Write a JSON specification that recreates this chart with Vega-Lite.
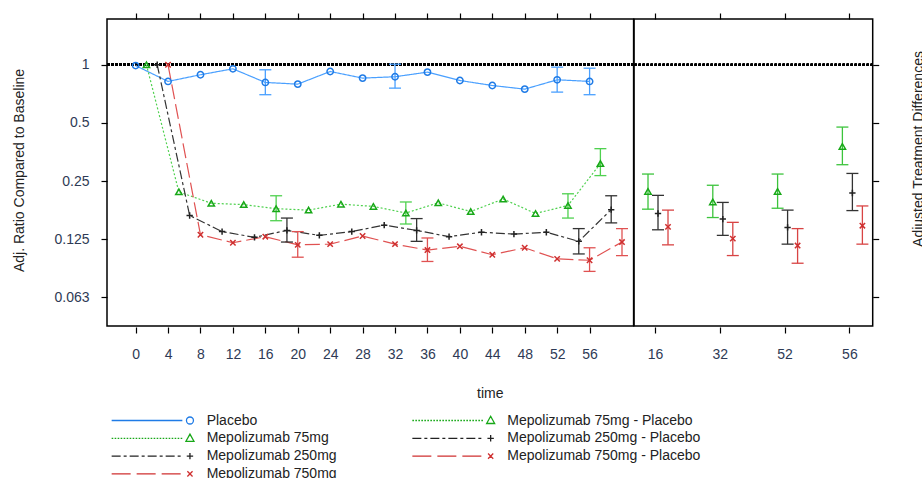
{
  "$schema": "https://vega.github.io/schema/vega-lite/v6.json",
  "padding": {"left": 11, "top": 11, "right": 0, "bottom": 0},
  "spacing": 0,
  "bounds": "flush",
  "resolve": {"scale": {"xOffset": "independent", "x": "independent", "y": "independent"}},
  "datasets": {
    "trend": [
      {"series": "Placebo", "week": 0, "ratio": 0.99},
      {"series": "Placebo", "week": 4, "ratio": 0.82},
      {"series": "Placebo", "week": 8, "ratio": 0.888},
      {"series": "Placebo", "week": 12, "ratio": 0.953},
      {"series": "Placebo", "week": 16, "ratio": 0.81, "lo": 0.70, "hi": 0.942},
      {"series": "Placebo", "week": 20, "ratio": 0.794},
      {"series": "Placebo", "week": 24, "ratio": 0.923},
      {"series": "Placebo", "week": 28, "ratio": 0.853},
      {"series": "Placebo", "week": 32, "ratio": 0.867, "lo": 0.757, "hi": 1.007},
      {"series": "Placebo", "week": 36, "ratio": 0.916},
      {"series": "Placebo", "week": 40, "ratio": 0.829},
      {"series": "Placebo", "week": 44, "ratio": 0.781},
      {"series": "Placebo", "week": 48, "ratio": 0.748},
      {"series": "Placebo", "week": 52, "ratio": 0.836, "lo": 0.722, "hi": 0.972},
      {"series": "Placebo", "week": 56, "ratio": 0.82, "lo": 0.70, "hi": 0.96},
      {"series": "Mepolizumab 75mg", "week": 0, "ratio": 1.0},
      {"series": "Mepolizumab 75mg", "week": 4, "ratio": 0.22},
      {"series": "Mepolizumab 75mg", "week": 8, "ratio": 0.192},
      {"series": "Mepolizumab 75mg", "week": 12, "ratio": 0.189},
      {"series": "Mepolizumab 75mg", "week": 16, "ratio": 0.18, "lo": 0.156, "hi": 0.21},
      {"series": "Mepolizumab 75mg", "week": 20, "ratio": 0.177},
      {"series": "Mepolizumab 75mg", "week": 24, "ratio": 0.19},
      {"series": "Mepolizumab 75mg", "week": 28, "ratio": 0.185},
      {"series": "Mepolizumab 75mg", "week": 32, "ratio": 0.171, "lo": 0.15, "hi": 0.195},
      {"series": "Mepolizumab 75mg", "week": 36, "ratio": 0.193},
      {"series": "Mepolizumab 75mg", "week": 40, "ratio": 0.174},
      {"series": "Mepolizumab 75mg", "week": 44, "ratio": 0.202},
      {"series": "Mepolizumab 75mg", "week": 48, "ratio": 0.17},
      {"series": "Mepolizumab 75mg", "week": 52, "ratio": 0.187, "lo": 0.161, "hi": 0.215},
      {"series": "Mepolizumab 75mg", "week": 56, "ratio": 0.308, "lo": 0.267, "hi": 0.368},
      {"series": "Mepolizumab 250mg", "week": 0, "ratio": 1.0},
      {"series": "Mepolizumab 250mg", "week": 4, "ratio": 0.166},
      {"series": "Mepolizumab 250mg", "week": 8, "ratio": 0.137},
      {"series": "Mepolizumab 250mg", "week": 12, "ratio": 0.128},
      {"series": "Mepolizumab 250mg", "week": 16, "ratio": 0.139, "lo": 0.121, "hi": 0.161},
      {"series": "Mepolizumab 250mg", "week": 20, "ratio": 0.131},
      {"series": "Mepolizumab 250mg", "week": 24, "ratio": 0.137},
      {"series": "Mepolizumab 250mg", "week": 28, "ratio": 0.148},
      {"series": "Mepolizumab 250mg", "week": 32, "ratio": 0.139, "lo": 0.122, "hi": 0.16},
      {"series": "Mepolizumab 250mg", "week": 36, "ratio": 0.129},
      {"series": "Mepolizumab 250mg", "week": 40, "ratio": 0.136},
      {"series": "Mepolizumab 250mg", "week": 44, "ratio": 0.133},
      {"series": "Mepolizumab 250mg", "week": 48, "ratio": 0.136},
      {"series": "Mepolizumab 250mg", "week": 52, "ratio": 0.122, "lo": 0.105, "hi": 0.142},
      {"series": "Mepolizumab 250mg", "week": 56, "ratio": 0.178, "lo": 0.152, "hi": 0.21},
      {"series": "Mepolizumab 750mg", "week": 0, "ratio": 1.0},
      {"series": "Mepolizumab 750mg", "week": 4, "ratio": 0.132},
      {"series": "Mepolizumab 750mg", "week": 8, "ratio": 0.12},
      {"series": "Mepolizumab 750mg", "week": 12, "ratio": 0.129},
      {"series": "Mepolizumab 750mg", "week": 16, "ratio": 0.117, "lo": 0.101, "hi": 0.137},
      {"series": "Mepolizumab 750mg", "week": 20, "ratio": 0.118},
      {"series": "Mepolizumab 750mg", "week": 24, "ratio": 0.13},
      {"series": "Mepolizumab 750mg", "week": 28, "ratio": 0.118},
      {"series": "Mepolizumab 750mg", "week": 32, "ratio": 0.11, "lo": 0.096, "hi": 0.127},
      {"series": "Mepolizumab 750mg", "week": 36, "ratio": 0.115},
      {"series": "Mepolizumab 750mg", "week": 40, "ratio": 0.104},
      {"series": "Mepolizumab 750mg", "week": 44, "ratio": 0.113},
      {"series": "Mepolizumab 750mg", "week": 48, "ratio": 0.099},
      {"series": "Mepolizumab 750mg", "week": 52, "ratio": 0.0974, "lo": 0.0853, "hi": 0.113},
      {"series": "Mepolizumab 750mg", "week": 56, "ratio": 0.121, "lo": 0.103, "hi": 0.142}
    ],
    "diff": [
      {"series": "Mepolizumab 75mg - Placebo", "week": 16, "ratio": 0.221, "lo": 0.179, "hi": 0.272},
      {"series": "Mepolizumab 250mg - Placebo", "week": 16, "ratio": 0.17, "lo": 0.14, "hi": 0.211},
      {"series": "Mepolizumab 750mg - Placebo", "week": 16, "ratio": 0.145, "lo": 0.117, "hi": 0.177},
      {"series": "Mepolizumab 75mg - Placebo", "week": 32, "ratio": 0.195, "lo": 0.162, "hi": 0.238},
      {"series": "Mepolizumab 250mg - Placebo", "week": 32, "ratio": 0.159, "lo": 0.131, "hi": 0.194},
      {"series": "Mepolizumab 750mg - Placebo", "week": 32, "ratio": 0.126, "lo": 0.103, "hi": 0.153},
      {"series": "Mepolizumab 75mg - Placebo", "week": 52, "ratio": 0.221, "lo": 0.181, "hi": 0.272},
      {"series": "Mepolizumab 250mg - Placebo", "week": 52, "ratio": 0.144, "lo": 0.118, "hi": 0.177},
      {"series": "Mepolizumab 750mg - Placebo", "week": 52, "ratio": 0.116, "lo": 0.094, "hi": 0.142},
      {"series": "Mepolizumab 75mg - Placebo", "week": 56, "ratio": 0.378, "lo": 0.304, "hi": 0.476},
      {"series": "Mepolizumab 250mg - Placebo", "week": 56, "ratio": 0.217, "lo": 0.176, "hi": 0.274},
      {"series": "Mepolizumab 750mg - Placebo", "week": 56, "ratio": 0.147, "lo": 0.118, "hi": 0.186}
    ]
  },
  "hconcat": [
    {
      "width": 526.6,
      "height": 307,
      "data": {"name": "trend"},
      "layer": [
        {
          "mark": {"type": "rule", "strokeDash": [2, 2], "strokeWidth": 2, "color": "black"},
          "encoding": {"y": {"datum": 1, "type": "quantitative", "scale": {"type": "log", "domain": [0.0445, 1.725], "nice": false}}}
        },
        {
          "mark": {"type": "line", "strokeWidth": 1.2},
          "encoding": {
            "x": {"field": "week", "type": "ordinal", "scale": {"type": "point", "domain": [0, 4, 8, 12, 16, 20, 24, 28, 32, 36, 40, 44, 48, 52, 56, 60], "padding": 0.62, "align": 0.712},
                  "axis": {"orient": "top", "values": [0, 4, 8, 12, 16, 20, 24, 28, 32, 36, 40, 44, 48, 52, 56], "labels": false, "title": null}},
            "xOffset": {"field": "series", "type": "nominal", "scale": {"type": "point", "domain": ["Placebo", "Mepolizumab 75mg", "Mepolizumab 250mg", "Mepolizumab 750mg"], "range": [0, 32.4], "padding": 0}},
            "y": {"field": "ratio", "type": "quantitative", "scale": {"type": "log", "domain": [0.0445, 1.725], "nice": false}},
            "stroke": {"field": "series", "type": "nominal", "legend": null, "scale": {"domain": ["Mepolizumab 750mg - Placebo", "Mepolizumab 250mg - Placebo", "Mepolizumab 75mg - Placebo", "Mepolizumab 750mg", "Mepolizumab 250mg", "Mepolizumab 75mg", "Placebo"], "range": ["#d84444", "#333333", "#3cc43c", "#e05252", "#333333", "#4fd14f", "#4aa0ff"]}},
            "strokeDash": {"field": "series", "type": "nominal", "legend": null, "scale": {"domain": ["Placebo", "Mepolizumab 75mg", "Mepolizumab 250mg", "Mepolizumab 750mg"], "range": [[1, 0], [2, 2], [9, 3, 3, 3], [15, 5]]}}
          }
        },
        {
          "transform": [{"filter": "isValid(datum.lo)"}],
          "mark": {"type": "rule", "strokeWidth": 1.3},
          "encoding": {
            "x": {"field": "week", "type": "ordinal", "scale": {"type": "point", "domain": [0, 4, 8, 12, 16, 20, 24, 28, 32, 36, 40, 44, 48, 52, 56, 60], "padding": 0.62, "align": 0.712}, "axis": null},
            "xOffset": {"field": "series", "type": "nominal", "scale": {"type": "point", "domain": ["Placebo", "Mepolizumab 75mg", "Mepolizumab 250mg", "Mepolizumab 750mg"], "range": [0, 32.4], "padding": 0}},
            "y": {"field": "lo", "type": "quantitative", "scale": {"type": "log", "domain": [0.0445, 1.725], "nice": false}},
            "y2": {"field": "hi"},
            "stroke": {"field": "series", "type": "nominal", "legend": null, "scale": {"domain": ["Mepolizumab 750mg - Placebo", "Mepolizumab 250mg - Placebo", "Mepolizumab 75mg - Placebo", "Mepolizumab 750mg", "Mepolizumab 250mg", "Mepolizumab 75mg", "Placebo"], "range": ["#d84444", "#333333", "#3cc43c", "#e05252", "#333333", "#4fd14f", "#4aa0ff"]}}
          }
        },
        {
          "transform": [{"filter": "isValid(datum.lo)"}],
          "mark": {"type": "tick", "orient": "horizontal", "size": 12, "thickness": 1.3, "opacity": 1},
          "encoding": {
            "x": {"field": "week", "type": "ordinal", "scale": {"type": "point", "domain": [0, 4, 8, 12, 16, 20, 24, 28, 32, 36, 40, 44, 48, 52, 56, 60], "padding": 0.62, "align": 0.712}, "axis": null},
            "xOffset": {"field": "series", "type": "nominal", "scale": {"type": "point", "domain": ["Placebo", "Mepolizumab 75mg", "Mepolizumab 250mg", "Mepolizumab 750mg"], "range": [0, 32.4], "padding": 0}},
            "y": {"field": "lo", "type": "quantitative", "scale": {"type": "log", "domain": [0.0445, 1.725], "nice": false}},
            "fill": {"field": "series", "type": "nominal", "legend": null, "scale": {"domain": ["Mepolizumab 75mg - Placebo", "Mepolizumab 250mg - Placebo", "Mepolizumab 750mg - Placebo", "Placebo", "Mepolizumab 75mg", "Mepolizumab 250mg", "Mepolizumab 750mg"], "range": ["#3cc43c", "#333333", "#d84444", "#4aa0ff", "#4fd14f", "#333333", "#e05252"]}}
          }
        },
        {
          "transform": [{"filter": "isValid(datum.hi)"}],
          "mark": {"type": "tick", "orient": "horizontal", "size": 12, "thickness": 1.3, "opacity": 1},
          "encoding": {
            "x": {"field": "week", "type": "ordinal", "scale": {"type": "point", "domain": [0, 4, 8, 12, 16, 20, 24, 28, 32, 36, 40, 44, 48, 52, 56, 60], "padding": 0.62, "align": 0.712}, "axis": null},
            "xOffset": {"field": "series", "type": "nominal", "scale": {"type": "point", "domain": ["Placebo", "Mepolizumab 75mg", "Mepolizumab 250mg", "Mepolizumab 750mg"], "range": [0, 32.4], "padding": 0}},
            "y": {"field": "hi", "type": "quantitative", "scale": {"type": "log", "domain": [0.0445, 1.725], "nice": false}},
            "fill": {"field": "series", "type": "nominal", "legend": null, "scale": {"domain": ["Mepolizumab 75mg - Placebo", "Mepolizumab 250mg - Placebo", "Mepolizumab 750mg - Placebo", "Placebo", "Mepolizumab 75mg", "Mepolizumab 250mg", "Mepolizumab 750mg"], "range": ["#3cc43c", "#333333", "#d84444", "#4aa0ff", "#4fd14f", "#333333", "#e05252"]}}
          }
        },
        {
          "mark": {"type": "point", "filled": false, "size": 40, "strokeWidth": 1.5, "opacity": 1},
          "encoding": {
            "x": {"field": "week", "type": "ordinal", "scale": {"type": "point", "domain": [0, 4, 8, 12, 16, 20, 24, 28, 32, 36, 40, 44, 48, 52, 56, 60], "padding": 0.62, "align": 0.712},
                  "axis": {"orient": "bottom", "values": [0, 4, 8, 12, 16, 20, 24, 28, 32, 36, 40, 44, 48, 52, 56], "title": "time", "titleX": 382.8, "titleY": 66.5, "titleBaseline": "middle", "titleAlign": "center", "labelPadding": 21, "labelBaseline": "middle", "offset": 1, "labelAngle": 0}},
            "xOffset": {"field": "series", "type": "nominal", "scale": {"type": "point", "domain": ["Placebo", "Mepolizumab 75mg", "Mepolizumab 250mg", "Mepolizumab 750mg"], "range": [0, 32.4], "padding": 0}},
            "y": {"field": "ratio", "type": "quantitative", "scale": {"type": "log", "domain": [0.0445, 1.725], "nice": false},
                  "axis": {"orient": "left", "values": [0.0625, 0.125, 0.25, 0.5, 1], "format": ".3~f", "title": "Adj. Ratio Compared to Baseline", "titleX": -87.7, "titleY": 151, "titleAngle": -90, "titleBaseline": "middle", "titleAlign": "center", "labelPadding": 12, "labelFlush": false}},
            "shape": {"field": "series", "type": "nominal", "legend": null, "scale": {"domain": ["Mepolizumab 750mg", "Mepolizumab 750mg - Placebo", "Mepolizumab 250mg", "Mepolizumab 250mg - Placebo", "Mepolizumab 75mg", "Mepolizumab 75mg - Placebo", "Placebo"], "range": ["M-0.85,-0.85L0.85,0.85M-0.85,0.85L0.85,-0.85", "M-0.85,-0.85L0.85,0.85M-0.85,0.85L0.85,-0.85", "M-1,0H1M0,-1V1", "M-1,0H1M0,-1V1", "triangle-up", "triangle-up", "circle"]}},
            "color": {"field": "series", "type": "nominal",
                      "scale": {"domain": ["Placebo", "Mepolizumab 75mg", "Mepolizumab 250mg", "Mepolizumab 750mg", "Mepolizumab 75mg - Placebo", "Mepolizumab 250mg - Placebo", "Mepolizumab 750mg - Placebo"], "range": ["#1f7be6", "#18a818", "#222222", "#cf3030", "#18a818", "#222222", "#cf3030"]},
                      "legend": {"title": null, "orient": "none", "legendX": 75.95, "legendY": 394.5, "columns": 2, "columnPadding": 72.7, "rowPadding": 3.8, "labelOffset": 9.7, "labelLimit": 400, "labelFontSize": 14, "labelFont": "Liberation Sans", "labelColor": "#222222", "symbolSize": 64, "symbolStrokeWidth": 1.3, "symbolFillColor": "transparent", "padding": 0,
                                 "symbolType": {"expr": "datum.value === 'Placebo' ? 'M-19.575,0H-1.9M0.875,0A0.875,0.875,0,1,1,-0.875,0A0.875,0.875,0,1,1,0.875,0Z' : indexof(datum.value, '75mg') >= 0 ? 'M-19.575,0h0.4M-18.825,0h0.4M-18.075,0h0.4M-17.325,0h0.4M-16.575,0h0.4M-15.825,0h0.4M-15.075,0h0.4M-14.325,0h0.4M-13.575,0h0.4M-12.825,0h0.4M-12.075,0h0.4M-11.325,0h0.4M-10.575,0h0.4M-9.825,0h0.4M-9.075,0h0.4M-8.325,0h0.4M-7.575,0h0.4M-6.825,0h0.4M-6.075,0h0.4M-5.325,0h0.4M-4.575,0h0.4M-3.825,0h0.4M-3.075,0h0.4M-2.325,0h0.4M0,-1.05L1,0.75L-1,0.75Z' : indexof(datum.value, '250mg') >= 0 ? 'M-19.575,0H-17.325M-16.575,0H-15.825M-15.075,0H-12.825M-12.075,0H-11.325M-10.575,0H-8.325M-7.575,0H-6.825M-6.075,0H-3.825M-3.075,0H-2.325M-0.8,0H0.8M0,-0.8V0.8' : 'M-19.575,0H-14.825M-13.325,0H-8.575M-7.075,0H-2.325M-0.65,-0.65L0.65,0.65M-0.65,0.65L0.65,-0.65'"}}}
          }
        }
      ]
    },
    {
      "width": 238.7,
      "height": 307,
      "data": {"name": "diff"},
      "layer": [
        {
          "mark": {"type": "rule", "strokeDash": [2, 2], "strokeWidth": 2, "color": "black"},
          "encoding": {"y": {"datum": 1, "type": "quantitative", "scale": {"type": "log", "domain": [0.0445, 1.725], "nice": false}}}
        },
        {
          "mark": {"type": "rule", "strokeWidth": 1.3},
          "encoding": {
            "x": {"field": "week", "type": "ordinal", "scale": {"type": "point", "padding": 0.342, "align": 0.474},
                  "axis": {"orient": "top", "labels": false, "title": null}},
            "xOffset": {"field": "series", "type": "nominal", "scale": {"type": "point", "domain": ["Mepolizumab 75mg - Placebo", "Mepolizumab 250mg - Placebo", "Mepolizumab 750mg - Placebo"], "range": [-7, 13], "padding": 0}},
            "y": {"field": "lo", "type": "quantitative", "scale": {"type": "log", "domain": [0.0445, 1.725], "nice": false}},
            "y2": {"field": "hi"},
            "stroke": {"field": "series", "type": "nominal", "legend": null, "scale": {"domain": ["Mepolizumab 750mg - Placebo", "Mepolizumab 250mg - Placebo", "Mepolizumab 75mg - Placebo", "Mepolizumab 750mg", "Mepolizumab 250mg", "Mepolizumab 75mg", "Placebo"], "range": ["#d84444", "#333333", "#3cc43c", "#e05252", "#333333", "#4fd14f", "#4aa0ff"]}}
          }
        },
        {
          "mark": {"type": "tick", "orient": "horizontal", "size": 12, "thickness": 1.3, "opacity": 1},
          "encoding": {
            "x": {"field": "week", "type": "ordinal", "scale": {"type": "point", "padding": 0.342, "align": 0.474}, "axis": null},
            "xOffset": {"field": "series", "type": "nominal", "scale": {"type": "point", "domain": ["Mepolizumab 75mg - Placebo", "Mepolizumab 250mg - Placebo", "Mepolizumab 750mg - Placebo"], "range": [-7, 13], "padding": 0}},
            "y": {"field": "lo", "type": "quantitative", "scale": {"type": "log", "domain": [0.0445, 1.725], "nice": false}},
            "fill": {"field": "series", "type": "nominal", "legend": null, "scale": {"domain": ["Mepolizumab 75mg - Placebo", "Mepolizumab 250mg - Placebo", "Mepolizumab 750mg - Placebo", "Placebo", "Mepolizumab 75mg", "Mepolizumab 250mg", "Mepolizumab 750mg"], "range": ["#3cc43c", "#333333", "#d84444", "#4aa0ff", "#4fd14f", "#333333", "#e05252"]}}
          }
        },
        {
          "mark": {"type": "tick", "orient": "horizontal", "size": 12, "thickness": 1.3, "opacity": 1},
          "encoding": {
            "x": {"field": "week", "type": "ordinal", "scale": {"type": "point", "padding": 0.342, "align": 0.474}, "axis": null},
            "xOffset": {"field": "series", "type": "nominal", "scale": {"type": "point", "domain": ["Mepolizumab 75mg - Placebo", "Mepolizumab 250mg - Placebo", "Mepolizumab 750mg - Placebo"], "range": [-7, 13], "padding": 0}},
            "y": {"field": "hi", "type": "quantitative", "scale": {"type": "log", "domain": [0.0445, 1.725], "nice": false}},
            "fill": {"field": "series", "type": "nominal", "legend": null, "scale": {"domain": ["Mepolizumab 75mg - Placebo", "Mepolizumab 250mg - Placebo", "Mepolizumab 750mg - Placebo", "Placebo", "Mepolizumab 75mg", "Mepolizumab 250mg", "Mepolizumab 750mg"], "range": ["#3cc43c", "#333333", "#d84444", "#4aa0ff", "#4fd14f", "#333333", "#e05252"]}}
          }
        },
        {
          "mark": {"type": "point", "filled": false, "size": 40, "strokeWidth": 1.5, "opacity": 1},
          "encoding": {
            "x": {"field": "week", "type": "ordinal", "scale": {"type": "point", "padding": 0.342, "align": 0.474},
                  "axis": {"orient": "bottom", "title": null, "labelPadding": 21, "labelBaseline": "middle", "offset": 1, "labelAngle": 0}},
            "xOffset": {"field": "series", "type": "nominal", "scale": {"type": "point", "domain": ["Mepolizumab 75mg - Placebo", "Mepolizumab 250mg - Placebo", "Mepolizumab 750mg - Placebo"], "range": [-7, 13], "padding": 0}},
            "y": {"field": "ratio", "type": "quantitative", "scale": {"type": "log", "domain": [0.0445, 1.725], "nice": false},
                  "axis": {"orient": "right", "values": [0.0625, 0.125, 0.25, 0.5, 1], "labels": false, "title": "Adjusted Treatment Differences", "titleAngle": -90, "titleX": 46, "titleY": 129.5, "titleBaseline": "middle", "titleAlign": "center"}},
            "shape": {"field": "series", "type": "nominal", "legend": null, "scale": {"domain": ["Mepolizumab 750mg", "Mepolizumab 750mg - Placebo", "Mepolizumab 250mg", "Mepolizumab 250mg - Placebo", "Mepolizumab 75mg", "Mepolizumab 75mg - Placebo", "Placebo"], "range": ["M-0.85,-0.85L0.85,0.85M-0.85,0.85L0.85,-0.85", "M-0.85,-0.85L0.85,0.85M-0.85,0.85L0.85,-0.85", "M-1,0H1M0,-1V1", "M-1,0H1M0,-1V1", "triangle-up", "triangle-up", "circle"]}},
            "color": {"field": "series", "type": "nominal",
                      "scale": {"domain": ["Placebo", "Mepolizumab 75mg", "Mepolizumab 250mg", "Mepolizumab 750mg", "Mepolizumab 75mg - Placebo", "Mepolizumab 250mg - Placebo", "Mepolizumab 750mg - Placebo"], "range": ["#1f7be6", "#18a818", "#222222", "#cf3030", "#18a818", "#222222", "#cf3030"]},
                      "legend": {"title": null, "orient": "none", "legendX": 75.95, "legendY": 394.5, "columns": 2, "columnPadding": 72.7, "rowPadding": 3.8, "labelOffset": 9.7, "labelLimit": 400, "labelFontSize": 14, "labelFont": "Liberation Sans", "labelColor": "#222222", "symbolSize": 64, "symbolStrokeWidth": 1.3, "symbolFillColor": "transparent", "padding": 0,
                                 "symbolType": {"expr": "datum.value === 'Placebo' ? 'M-19.575,0H-1.9M0.875,0A0.875,0.875,0,1,1,-0.875,0A0.875,0.875,0,1,1,0.875,0Z' : indexof(datum.value, '75mg') >= 0 ? 'M-19.575,0h0.4M-18.825,0h0.4M-18.075,0h0.4M-17.325,0h0.4M-16.575,0h0.4M-15.825,0h0.4M-15.075,0h0.4M-14.325,0h0.4M-13.575,0h0.4M-12.825,0h0.4M-12.075,0h0.4M-11.325,0h0.4M-10.575,0h0.4M-9.825,0h0.4M-9.075,0h0.4M-8.325,0h0.4M-7.575,0h0.4M-6.825,0h0.4M-6.075,0h0.4M-5.325,0h0.4M-4.575,0h0.4M-3.825,0h0.4M-3.075,0h0.4M-2.325,0h0.4M0,-1.05L1,0.75L-1,0.75Z' : indexof(datum.value, '250mg') >= 0 ? 'M-19.575,0H-17.325M-16.575,0H-15.825M-15.075,0H-12.825M-12.075,0H-11.325M-10.575,0H-8.325M-7.575,0H-6.825M-6.075,0H-3.825M-3.075,0H-2.325M-0.8,0H0.8M0,-0.8V0.8' : 'M-19.575,0H-14.825M-13.325,0H-8.575M-7.075,0H-2.325M-0.65,-0.65L0.65,0.65M-0.65,0.65L0.65,-0.65'"}}}
          }
        }
      ]
    }
  ],
  "config": {
    "font": "Liberation Sans",
    "view": {"stroke": "black", "strokeWidth": 1.5},
    "axis": {"domain": false, "grid": false, "tickColor": "black", "tickWidth": 1.2, "tickSize": 6, "labelFont": "Liberation Sans", "labelFontSize": 14, "labelColor": "#2e3a55", "titleFont": "Liberation Sans", "titleFontSize": 14, "titleFontWeight": "normal", "titleColor": "#222222"}
  }
}
